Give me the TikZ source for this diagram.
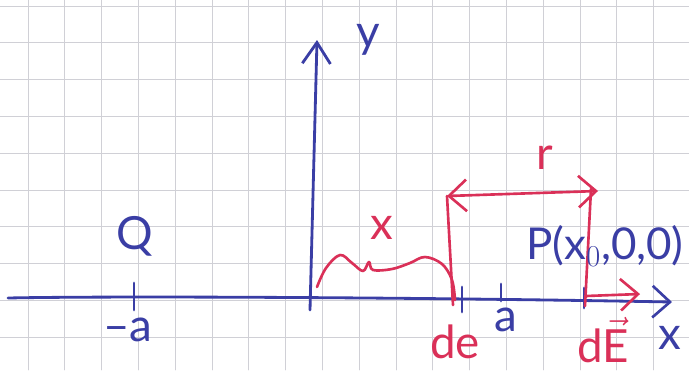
\documentclass[tikz,border=0pt]{standalone}
\usepackage{fontspec}
\setmainfont{Lato}
\usetikzlibrary{arrows.meta}
\definecolor{penblue}{RGB}{58,62,165}
\definecolor{penred}{RGB}{218,48,88}
\definecolor{gridgrey}{RGB}{208,208,214}
\begin{document}
\begin{tikzpicture}[x=0.02cm, y=-0.02cm, line cap=round, line join=round,
      blueline/.style={draw=penblue, line width=1.6pt},
      redline/.style={draw=penred, line width=1.5pt},
      barb/.style={-{Straight Barb[length=10pt, width=18pt, line width=1.5pt]}},
      bluetext/.style={text=penblue, inner sep=0pt, font=\fontsize{26}{28}\selectfont},
      redtext/.style={text=penred, inner sep=0pt, font=\fontsize{26}{28}\selectfont}]
    \useasboundingbox[fill=white] (0,0) rectangle (689,370);
    \foreach \gx in {0,...,18} \draw[gridgrey, line width=0.5pt] (28+36.8*\gx,0) -- (28+36.8*\gx,370);
    \foreach \gy in {0,...,9} \draw[gridgrey, line width=0.5pt] (0,6+36.8*\gy) -- (689,6+36.8*\gy);
    \coordinate (xstart) at (8,298);
    \coordinate (xend) at (672,302);
    \coordinate (ybot) at (310,310);
    \coordinate (ytop) at (317,40);
    \coordinate (mina) at (134,297);
    \coordinate (dex) at (462,299);
    \coordinate (plusa) at (501,299);
    \coordinate (xnull) at (584,300);
    \coordinate (deL) at (453,305);
    \coordinate (rL) at (447,196);
    \coordinate (rR) at (598,191);
    \coordinate (rRtop) at (591,189);
    \coordinate (rRbot) at (585,306);
    \coordinate (Estart) at (586,296);
    \coordinate (Eend) at (640,294);
    \draw[blueline, barb] (xstart) .. controls (100,296) and (400,297) .. (xend);
    \draw[blueline, -{Straight Barb[length=12pt, width=16pt, line width=1.6pt]}] (ybot) -- (ytop);
    \draw[blueline] (mina) ++(0,-14) -- ++(0,27);
    \draw[blueline] (dex) ++(0,-12) -- ++(0,25);
    \draw[blueline] (plusa) ++(0,-15) -- ++(0,17);
    \draw[blueline] (xnull) ++(0,-12) -- ++(0,20);
    \draw[redline] (rL) -- (deL);
    \draw[redline] (rRtop) -- (rRbot);
    \draw[redline, {Straight Barb[length=10pt, width=18pt, line width=1.5pt]}-{Straight Barb[length=10pt, width=18pt, line width=1.5pt]}] (rL) -- (rR);
    \draw[redline, barb] (Estart) -- (Eend);
    \draw[redline] plot[smooth, tension=0.6] coordinates {(317,287) (326,268) (340,255) (352,263) (363,271) (369,262) (373,270) (392,269) (410,263) (425,257) (442,264) (452,280) (455,300)};
    \node[bluetext] (Q) at (135,236) {Q};
    \node[bluetext] (mlab) at (128,330) {–a};
    \node[bluetext] (alab) at (506,320) {a};
    \node[bluetext] (ylab) at (368,40) {y};
    \node[bluetext] (xlab) at (670,338) {x};
    \node[bluetext, font=\fontsize{25}{28}\selectfont] (P) at (605,246) {P(x$_0$,0,0)};
    \node[redtext] (xdist) at (382,228) {x};
    \node[redtext] (rlab) at (545,158) {r};
    \node[redtext] (delab) at (455,342) {de};
    \node[redtext] (dElab) at (603,340) {d$\vec{\mbox{E}}$};
  \end{tikzpicture}
\end{document}
